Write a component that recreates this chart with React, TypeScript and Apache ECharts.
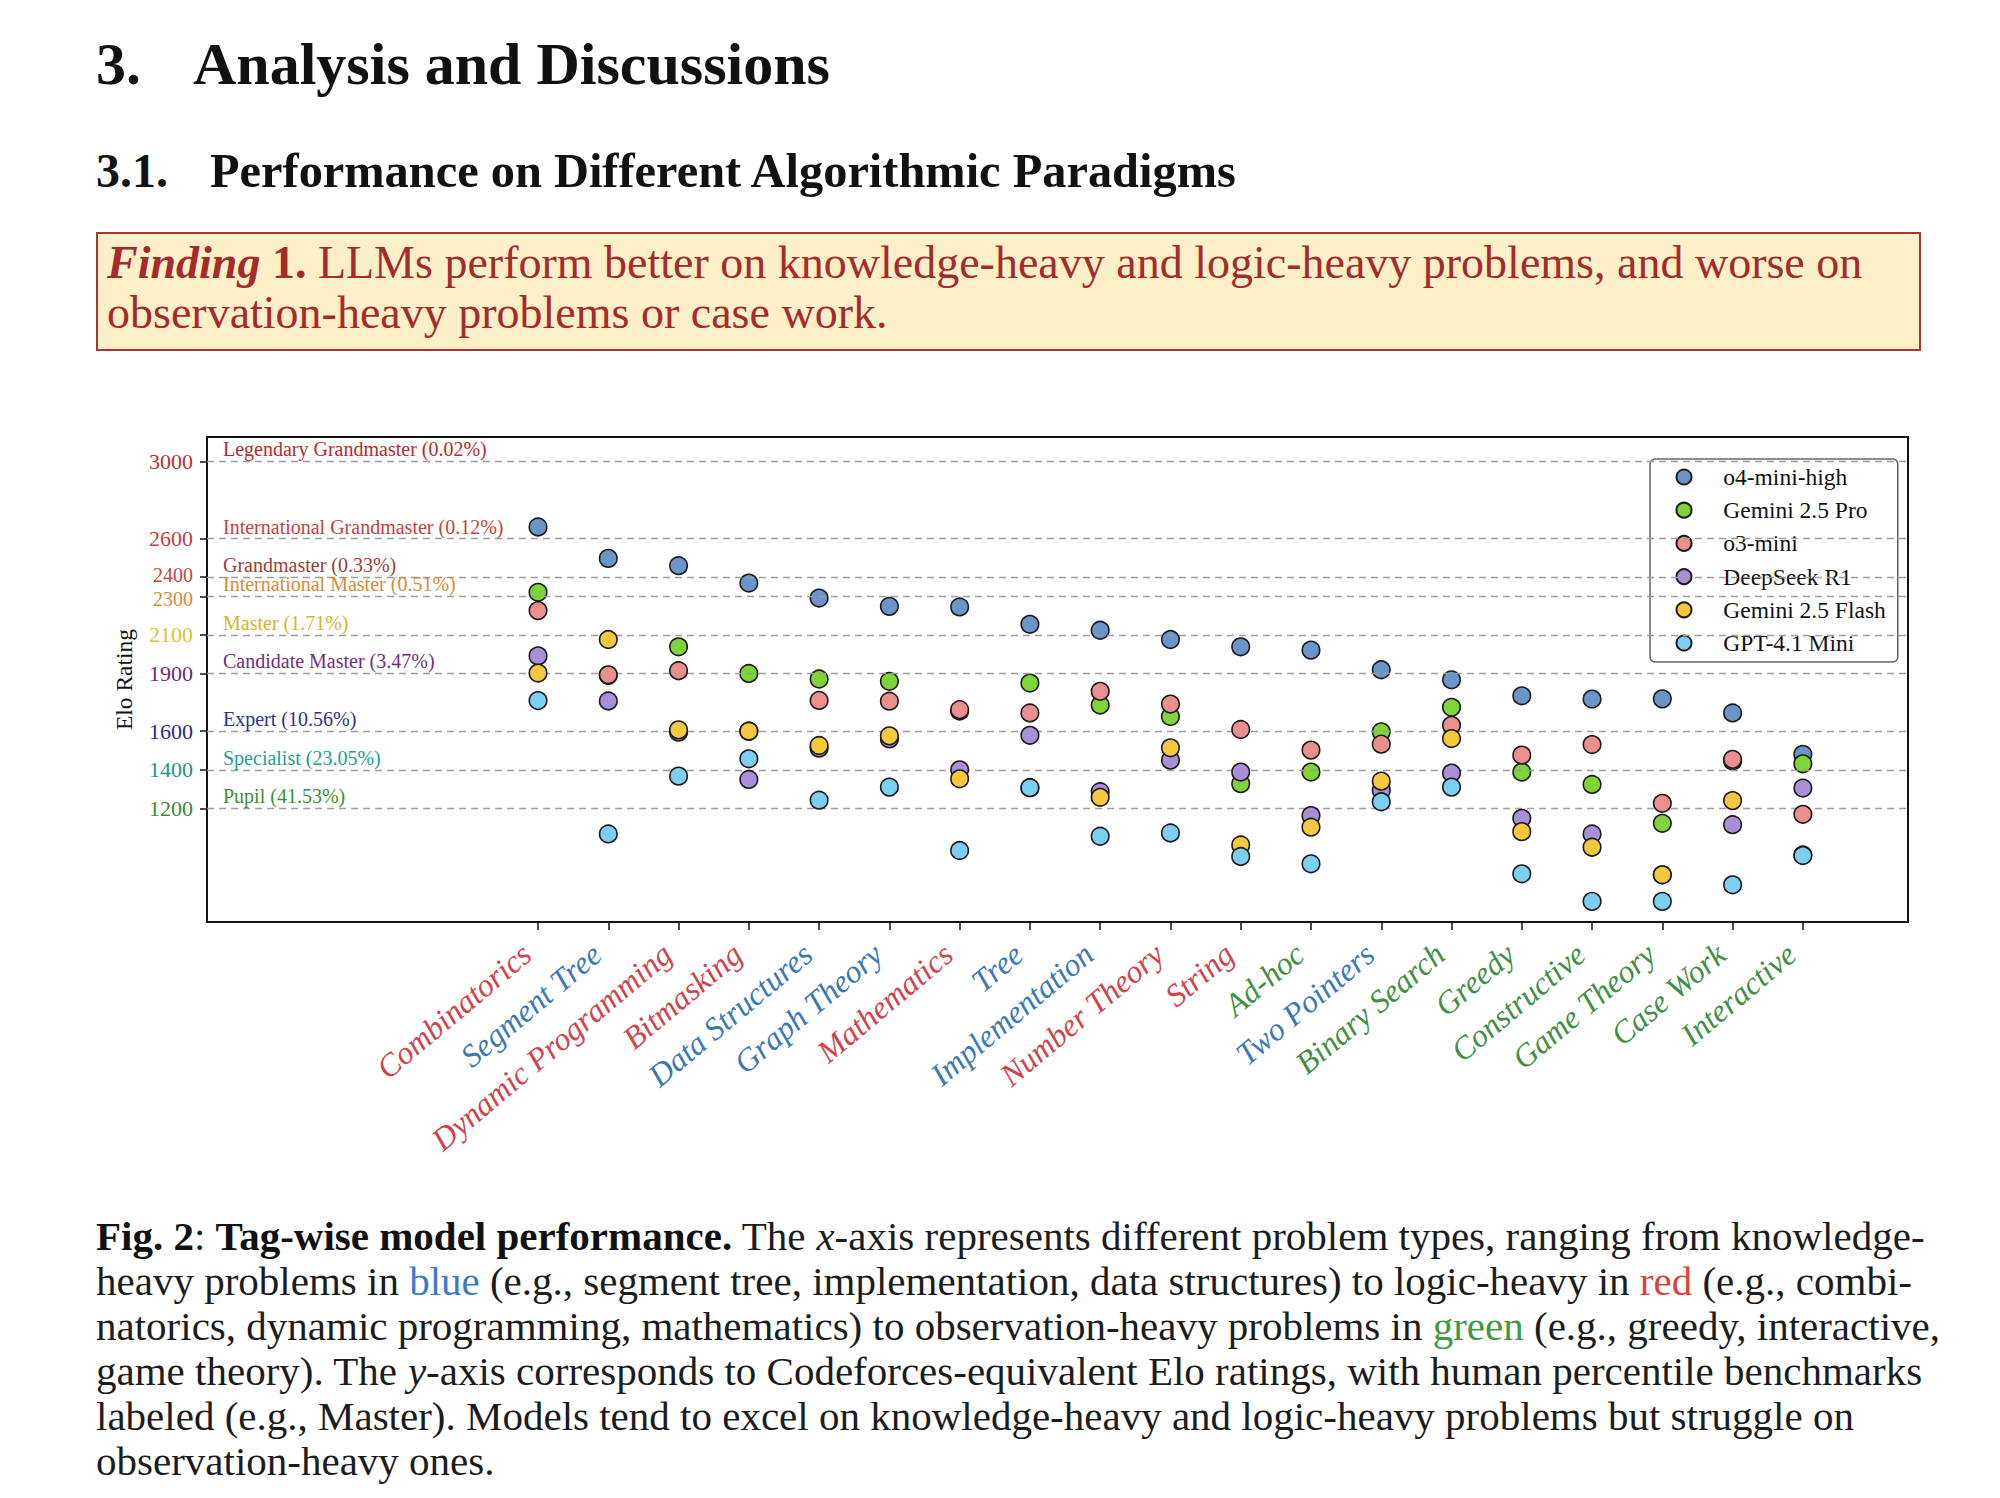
import React, { useEffect, useRef } from 'react';
import * as echarts from 'echarts';

const FONT = "'Liberation Serif', 'Times New Roman', serif";

const categories = ['Combinatorics', 'Segment Tree', 'Dynamic Programming', 'Bitmasking', 'Data Structures', 'Graph Theory', 'Mathematics', 'Tree', 'Implementation', 'Number Theory', 'String', 'Ad-hoc', 'Two Pointers', 'Binary Search', 'Greedy', 'Constructive', 'Game Theory', 'Case Work', 'Interactive'];
// r = logic-heavy (red), b = knowledge-heavy (blue), g = observation-heavy (green)
const categoryGroup = ['r', 'b', 'r', 'r', 'b', 'b', 'r', 'b', 'b', 'r', 'r', 'g', 'b', 'g', 'g', 'g', 'g', 'g', 'g'];

const seriesNames = ['o4-mini-high', 'Gemini 2.5 Pro', 'o3-mini', 'DeepSeek R1', 'Gemini 2.5 Flash', 'GPT-4.1 Mini'];
const seriesColors = ['#6b94c9', '#7fd437', '#eb8e8e', '#a98fd8', '#f5c93e', '#7dcff2'];

const o4MiniHigh = [2660, 2497, 2459, 2369, 2291, 2248, 2245, 2155, 2124, 2076, 2038, 2021, 1919, 1867, 1784, 1767, 1768, 1695, 1480];
const gemini25Pro = [2321, 1890, 2038, 1900, 1871, 1859, 1705, 1850, 1736, 1676, 1328, 1388, 1597, 1724, 1388, 1324, 1122, 1445, 1431];
const o3Mini = [2226, 1893, 1914, 1600, 1760, 1756, 1712, 1695, 1807, 1741, 1609, 1502, 1533, 1631, 1476, 1531, 1226, 1454, 1169];
const deepSeekR1 = [1991, 1757, 1595, 1350, 1512, 1560, 1400, 1579, 1286, 1450, 1388, 1162, 1293, 1383, 1148, 1067, 855, 1115, 1305];
const gemini25Flash = [1902, 2076, 1607, 1600, 1526, 1576, 1353, 1307, 1257, 1514, 1010, 1102, 1341, 1562, 1079, 998, 855, 1240, 958];
const gpt41Mini = [1759, 1067, 1367, 1457, 1242, 1310, 981, 1307, 1055, 1072, 950, 912, 1234, 1310, 860, 717, 717, 803, 955];
const seriesValues = [o4MiniHigh, gemini25Pro, o3Mini, deepSeekR1, gemini25Flash, gpt41Mini];

const tierValues = [3000, 2600, 2400, 2300, 2100, 1900, 1600, 1400, 1200];
const tierNames = ['Legendary Grandmaster (0.02%)', 'International Grandmaster (0.12%)', 'Grandmaster (0.33%)', 'International Master (0.51%)', 'Master (1.71%)', 'Candidate Master (3.47%)', 'Expert (10.56%)', 'Specialist (23.05%)', 'Pupil (41.53%)'];
const tierColors = ['#b82a2e', '#c93e42', '#9e3b3b', '#d98b3a', '#d6b52c', '#6e2f86', '#2b3399', '#22a093', '#3d8f2e'];
const tickColors = ['#c22d31', '#c93b3f', '#c7463c', '#de8a33', '#d8c52c', '#6e2a80', '#2a2a96', '#1e9486', '#3a8a35'];

const groupColors = { r: '#d0434b', b: '#3a79b4', g: '#3f8f45' };

const captionLines = [
  '{b|Fig. 2}{n|: }{b|Tag-wise model performance.}{n| The }{i|x}{n|-axis represents different problem types, ranging from knowledge-}',
  '{n|heavy problems in }{bl|blue}{n| (e.g., segment tree, implementation, data structures) to logic-heavy in }{rd|red}{n| (e.g., combi-}',
  '{n|natorics, dynamic programming, mathematics) to observation-heavy problems in }{gr|green}{n| (e.g., greedy, interactive,}',
  '{n|game theory). The }{i|y}{n|-axis corresponds to Codeforces-equivalent Elo ratings, with human percentile benchmarks}',
  '{n|labeled (e.g., Master). Models tend to excel on knowledge-heavy and logic-heavy problems but struggle on}',
  '{n|observation-heavy ones.}',
];
const findingLines = [
  '{bi|Finding}{b| 1.}{n| LLMs perform better on knowledge-heavy and logic-heavy problems, and worse on}',
  '{n|observation-heavy problems or case work.}',
];

export default function App() {
  const ref = useRef<HTMLDivElement>(null);
  useEffect(() => {
    if (!ref.current) return;
    const chart = echarts.init(ref.current, undefined, { renderer: 'svg' });

    const yRich: Record<string, any> = {};
    tierValues.forEach((v, i) => {
      const base: any = { color: tickColors[i], fontSize: 22, fontFamily: FONT };
      if (v === 2400) Object.assign(base, { fontSize: 20, padding: [0, 0, 5, 0] });
      if (v === 2300) Object.assign(base, { fontSize: 20, padding: [5, 0, 0, 0] });
      yRich['t' + i] = base;
    });
    const xRich: Record<string, any> = {};
    (['r', 'b', 'g'] as const).forEach((k) => {
      xRich[k] = { color: groupColors[k], fontSize: 32, fontStyle: 'italic', fontFamily: FONT };
    });

    const capFs = 41;
    const capRich = {
      n: { fontSize: capFs, fontFamily: FONT, fill: '#1c1c1c' },
      b: { fontSize: capFs, fontFamily: FONT, fontWeight: 'bold', fill: '#111' },
      i: { fontSize: capFs, fontFamily: FONT, fontStyle: 'italic', fill: '#1c1c1c' },
      bl: { fontSize: capFs, fontFamily: FONT, fill: '#3b7dc4' },
      rd: { fontSize: capFs, fontFamily: FONT, fill: '#d8433f' },
      gr: { fontSize: capFs, fontFamily: FONT, fill: '#3f9a3f' },
    };
    const fFs = 46;
    const findColor = '#a52b2b';
    const findRich = {
      n: { fontSize: fFs, fontFamily: FONT, fill: findColor },
      b: { fontSize: fFs, fontFamily: FONT, fontWeight: 'bold', fill: findColor },
      bi: { fontSize: fFs, fontFamily: FONT, fontWeight: 'bold', fontStyle: 'italic', fill: findColor },
    };
    const captionMid = [1236, 1281, 1326, 1371, 1416, 1461];
    const findingMid = [262, 312];

    const graphic: any[] = [
      { type: 'text', x: 96, y: 64, style: { text: '3.', font: `bold 60px ${FONT}`, fill: '#111', verticalAlign: 'middle' } },
      { type: 'text', x: 193, y: 64, style: { text: 'Analysis and Discussions', font: `bold 60px ${FONT}`, fill: '#111', verticalAlign: 'middle' } },
      { type: 'text', x: 96, y: 170, style: { text: '3.1.', font: `bold 48px ${FONT}`, fill: '#111', verticalAlign: 'middle' } },
      { type: 'text', x: 210, y: 170, style: { text: 'Performance on Different Algorithmic Paradigms', font: `bold 48.4px ${FONT}`, fill: '#111', verticalAlign: 'middle' } },
      { type: 'rect', shape: { x: 97, y: 233, width: 1823, height: 117 }, style: { fill: '#fdf0c9', stroke: '#ad3434', lineWidth: 2 } },
    ];
    findingLines.forEach((t, i) => {
      graphic.push({ type: 'text', x: 107, y: findingMid[i], style: { text: t, rich: findRich, fontSize: fFs, fontFamily: FONT, fill: findColor, verticalAlign: 'middle' } });
    });
    captionLines.forEach((t, i) => {
      graphic.push({ type: 'text', x: 96, y: captionMid[i], style: { text: t, rich: capRich, fontSize: capFs, fontFamily: FONT, fill: '#1c1c1c', verticalAlign: 'middle' } });
    });

    const yMin = 610;
    const yMax = 3127;

    const option: any = {
      animation: false,
      backgroundColor: '#ffffff',
      textStyle: { fontFamily: FONT },
      graphic,
      grid: [
        { left: 207, top: 437, width: 1701, height: 485, show: true, borderColor: '#111', borderWidth: 2, backgroundColor: 'transparent' },
        { left: 502.9, top: 437, width: 1335.1, height: 485, show: false },
      ],
      xAxis: [
        { gridIndex: 0, type: 'value', min: 0, max: 1, show: false },
        {
          gridIndex: 1,
          type: 'category',
          data: categories,
          boundaryGap: true,
          axisLine: { show: false },
          axisTick: { show: true, alignWithLabel: true, length: 8, lineStyle: { color: '#111', width: 1.5 } },
          axisLabel: {
            interval: 0,
            rotate: 40,
            margin: 18,
            padding: [0, 15, 0, 0],
            formatter: (v: string, i: number) => `{${categoryGroup[i]}|${v}}`,
            rich: xRich,
          },
          splitLine: { show: false },
        },
      ],
      yAxis: [
        {
          gridIndex: 0,
          type: 'value',
          min: yMin,
          max: yMax,
          axisLine: { show: false },
          splitLine: { show: false },
          axisTick: { show: true, customValues: tierValues, length: 7, lineStyle: { color: '#111', width: 1.5 } },
          axisLabel: {
            customValues: tierValues,
            margin: 14,
            formatter: (v: number) => {
              const idx = tierValues.indexOf(Math.round(v));
              return idx >= 0 ? `{t${idx}|${Math.round(v)}}` : '';
            },
            rich: yRich,
          },
          name: 'Elo Rating',
          nameLocation: 'middle',
          nameGap: 71,
          nameTextStyle: { fontFamily: FONT, fontSize: 23.5, color: '#111' },
        },
        { gridIndex: 1, type: 'value', min: yMin, max: yMax, show: false },
      ],
      legend: {
        data: seriesNames,
        orient: 'vertical',
        left: 1650,
        top: 459,
        icon: 'circle',
        itemWidth: 42.5,
        itemHeight: 15,
        itemGap: 9.2,
        padding: [6, 12, 7, 25.5],
        backgroundColor: 'rgba(255,255,255,0.92)',
        borderColor: '#666',
        borderWidth: 1.5,
        borderRadius: 5,
        textStyle: { fontFamily: FONT, fontSize: 23.5, color: '#111', lineHeight: 23, padding: [0, 0, 0, 13] },
      },
      series: [
        {
          type: 'scatter',
          name: '__tiers',
          xAxisIndex: 0,
          yAxisIndex: 0,
          data: [[0.5, yMin]],
          symbolSize: 0,
          itemStyle: { opacity: 0 },
          silent: true,
          markLine: {
            silent: true,
            symbol: ['none', 'none'],
            lineStyle: { type: [7, 5], color: '#9d9d9d', width: 1.4 },
            data: tierValues.map((v, i) => ({
              yAxis: v,
              label: {
                show: true,
                position: 'insideStartTop',
                formatter: tierNames[i],
                color: tierColors[i],
                fontSize: 20,
                fontFamily: FONT,
                distance: [16, 2],
              },
            })),
          },
        },
        ...seriesNames.map((name, si) => ({
          type: 'scatter',
          name,
          xAxisIndex: 1,
          yAxisIndex: 1,
          data: seriesValues[si],
          symbol: 'circle',
          symbolSize: 17.5,
          itemStyle: { color: seriesColors[si], borderColor: '#1a1a1a', borderWidth: 1.6, opacity: 1 },
          z: 3 + si,
        })),
      ],
    };
    chart.setOption(option);
    return () => chart.dispose();
  }, []);
  return <div ref={ref} style={{ position: 'absolute', left: 0, top: 0, width: 2000, height: 1498, background: '#fff' }} />;
}
